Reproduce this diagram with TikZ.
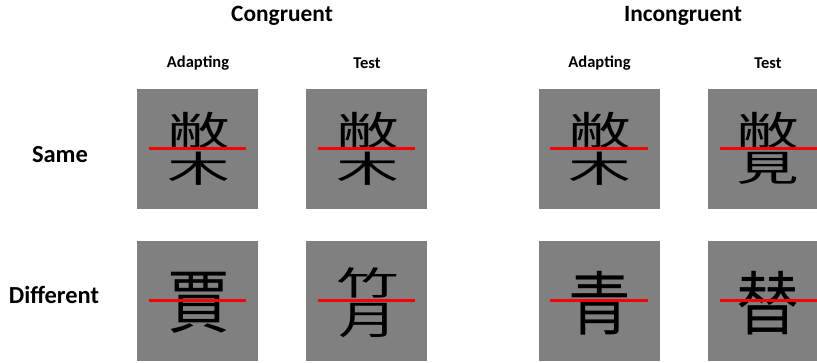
\documentclass[tikz,border=0pt]{standalone}
\usepackage{fontspec}
\setmainfont{Carlito}
\newfontfamily\cjk{Noto Sans CJK SC}
\usepackage{graphicx}
\begin{document}
\begin{tikzpicture}[x=1pt,y=-1pt,
  sq/.style={fill=stimgray,draw=none,minimum width=121pt,minimum height=120pt,inner sep=0pt},
  redline/.style={draw=stimred,line width=2.2pt},
  hz/.style={font=\cjk\fontsize{66}{66}\selectfont,inner sep=0pt,text=black},
  big/.style={font=\bfseries\fontsize{23.4}{23.4}\selectfont,inner sep=0pt},
  small/.style={font=\bfseries\fontsize{16.5}{16.5}\selectfont,inner sep=0pt},
  rowlab/.style={font=\bfseries\fontsize{24.5}{24.5}\selectfont,inner sep=0pt}]
\definecolor{stimgray}{RGB}{128,128,128}
\definecolor{stimred}{RGB}{250,0,0}
\clip (0,0) rectangle (817,362);
\fill[white] (0,0) rectangle (817,362);
% headers
\node[big] (cong) at (282,16) {Congruent};
\node[big] (incong) at (683,16) {Incongruent};
\node[small] (a1) at (198,63) {Adapting};
\node[small] (t1) at (367,63) {Test};
\node[small] (a2) at (599.5,63) {Adapting};
\node[small] (t2) at (768,63) {Test};
\node[rowlab] (same) at (60,155) {Same};
\node[rowlab] (diff) at (54,295) {Different};
% squares
\node[sq] (s11) at (197.5,148.5) {};
\node[sq] (s12) at (366.5,148.5) {};
\node[sq] (s13) at (599,148.5) {};
\node[sq] (s14) at (768.5,148.5) {};
\node[sq] (s21) at (197.5,300.5) {};
\node[sq] (s22) at (366.5,300.5) {};
\node[sq] (s23) at (599,300.5) {};
\node[sq] (s24) at (768.5,300.5) {};
% characters row 1 (composed top + bottom)
\node[hz] (c11t) at (199,130) {\scalebox{0.95}[0.6]{敝}};
\node[hz] (c11b) at (199,168.5) {\scalebox{0.95}[0.55]{木}};
\node[hz] (c12t) at (368,130) {\scalebox{0.95}[0.6]{敝}};
\node[hz] (c12b) at (368,168.5) {\scalebox{0.95}[0.55]{木}};
\node[hz] (c13t) at (600,130) {\scalebox{0.95}[0.6]{敝}};
\node[hz] (c13b) at (600,168.5) {\scalebox{0.95}[0.55]{木}};
\node[hz] (c14t) at (768,130) {\scalebox{0.95}[0.6]{敝}};
\node[hz] (c14b) at (768,168.5) {\scalebox{0.95}[0.55]{見}};
% characters row 2
\node[hz] (c21) at (199,303) {\scalebox{0.95}[1.05]{賈}};
\node[hz] (c22t) at (368,283) {\scalebox{0.95}[0.5]{竹}};
\node[hz] (c22b) at (368,321) {\scalebox{0.9}[0.6]{月}};
\node[hz] (c23) at (600,303) {\scalebox{0.95}[1.05]{青}};
\node[hz] (c24) at (768,303) {\scalebox{0.95}[1.05]{替}};
% red lines
\foreach \s in {s11,s12,s13,s14,s21,s22,s23,s24}
  \draw[redline] ([xshift=12pt]\s.west) -- ([xshift=-12pt]\s.east);
\end{tikzpicture}
\end{document}
